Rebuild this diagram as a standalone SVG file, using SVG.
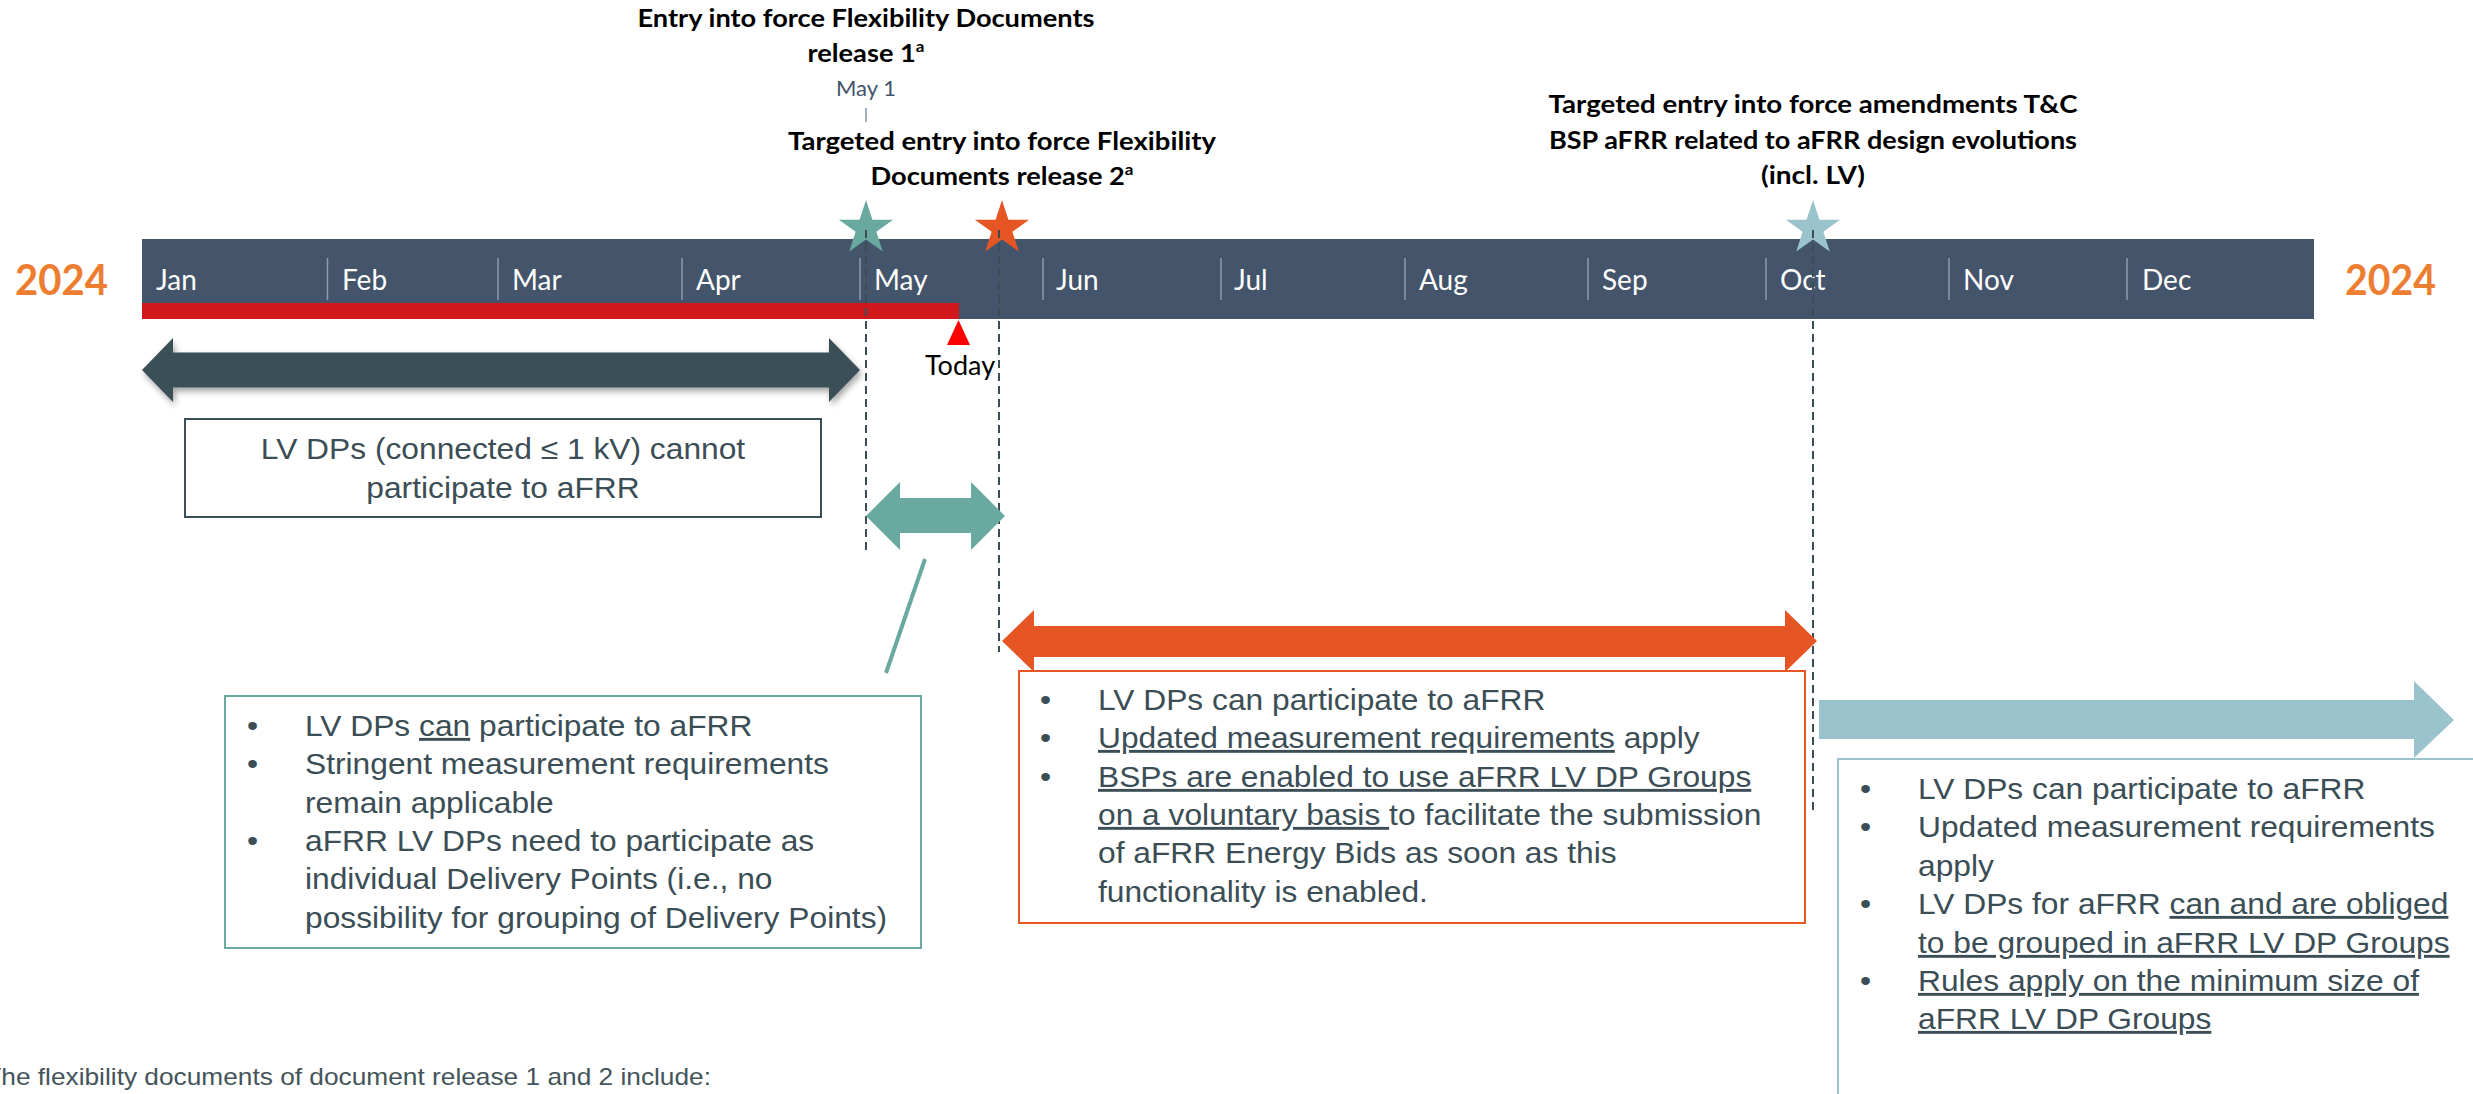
<svg xmlns="http://www.w3.org/2000/svg" width="2473" height="1094" viewBox="0 0 2473 1094">
  <style>
    .head { font-family: Lato, "Liberation Sans", sans-serif; font-weight: 700; font-size: 24px; fill: #000000; }
    .month { font-family: Lato, "Liberation Sans", sans-serif; font-size: 28px; fill: #FFFFFF; }
    .year { font-family: Lato, "Liberation Sans", sans-serif; font-weight: 700; font-size: 42px; fill: #ED7D31; }
    .body { font-family: "Liberation Sans", Arial, sans-serif; font-size: 29px; fill: #3B4D55; }
    .note { font-family: "Liberation Sans", Arial, sans-serif; font-size: 24px; fill: #44545A; }
    .u { text-decoration: underline; }
    .divider { stroke: #8C9BB0; stroke-width: 1.5; }
    .guide { stroke: #3B4D55; stroke-width: 2; stroke-dasharray: 8 5; fill: none; }
  </style>
  <defs>
    <polygon id="star" points="0,-28.5 6.41,-8.82 27.1,-8.8 10.37,3.37 16.75,23.06 0,10.9 -16.75,23.06 -10.37,3.37 -27.1,-8.8 -6.41,-8.82"/>
    <filter id="shadow" x="-5%" y="-30%" width="110%" height="170%">
      <feGaussianBlur in="SourceAlpha" stdDeviation="3"/>
      <feOffset dx="2" dy="4" result="b"/>
      <feComponentTransfer><feFuncA type="linear" slope="0.35"/></feComponentTransfer>
      <feMerge><feMergeNode/><feMergeNode in="SourceGraphic"/></feMerge>
    </filter>
  </defs>

  <rect width="2473" height="1094" fill="#FFFFFF"/>

  <!-- milestone captions -->
  <g id="caption-release1">
    <text class="head" x="866" y="27" text-anchor="middle" textLength="457" lengthAdjust="spacingAndGlyphs">Entry into force Flexibility Documents</text>
    <text class="head" x="866" y="62" text-anchor="middle" textLength="117" lengthAdjust="spacingAndGlyphs">release 1<tspan font-size="15" dy="-10">a</tspan></text>
    <text x="866" y="96" text-anchor="middle" font-family="Lato, 'Liberation Sans', sans-serif" font-size="22" fill="#44546A">May 1</text>
    <line x1="866" y1="108" x2="866" y2="122" stroke="#8497B0" stroke-width="1.5"/>
  </g>
  <g id="caption-release2">
    <text class="head" x="1002" y="150" text-anchor="middle" textLength="428" lengthAdjust="spacingAndGlyphs">Targeted entry into force Flexibility</text>
    <text class="head" x="1002" y="185" text-anchor="middle" textLength="263" lengthAdjust="spacingAndGlyphs">Documents release 2<tspan font-size="15" dy="-10">a</tspan></text>
  </g>
  <g id="caption-tc">
    <text class="head" x="1813" y="113" text-anchor="middle" textLength="529" lengthAdjust="spacingAndGlyphs">Targeted entry into force amendments T&amp;C</text>
    <text class="head" x="1813" y="149" text-anchor="middle" textLength="528" lengthAdjust="spacingAndGlyphs">BSP aFRR related to aFRR design evolutions</text>
    <text class="head" x="1813" y="184" text-anchor="middle" textLength="104" lengthAdjust="spacingAndGlyphs">(incl. LV)</text>
  </g>

  <!-- timeline bar -->
  <g id="timeline">
    <rect x="142" y="239" width="2172" height="80" fill="#44546A"/>
    <rect x="142" y="303" width="817" height="16" fill="#CF171C"/>
    <g class="divider">
      <line x1="327.5" y1="258" x2="327.5" y2="300"/>
      <line x1="498" y1="258" x2="498" y2="300"/>
      <line x1="682" y1="258" x2="682" y2="300"/>
      <line x1="860" y1="258" x2="860" y2="300"/>
      <line x1="1043" y1="258" x2="1043" y2="300"/>
      <line x1="1221" y1="258" x2="1221" y2="300"/>
      <line x1="1405" y1="258" x2="1405" y2="300"/>
      <line x1="1588" y1="258" x2="1588" y2="300"/>
      <line x1="1766" y1="258" x2="1766" y2="300"/>
      <line x1="1949" y1="258" x2="1949" y2="300"/>
      <line x1="2127" y1="258" x2="2127" y2="300"/>
    </g>
    <text class="month" x="156" y="290">Jan</text>
    <text class="month" x="342" y="290">Feb</text>
    <text class="month" x="512" y="290">Mar</text>
    <text class="month" x="696" y="290">Apr</text>
    <text class="month" x="874" y="290">May</text>
    <text class="month" x="1056" y="290">Jun</text>
    <text class="month" x="1234" y="290">Jul</text>
    <text class="month" x="1419" y="290">Aug</text>
    <text class="month" x="1602" y="290">Sep</text>
    <text class="month" x="1780" y="290">Oct</text>
    <text class="month" x="1963" y="290">Nov</text>
    <text class="month" x="2142" y="290">Dec</text>
    <text class="year" x="15" y="295" textLength="93" lengthAdjust="spacingAndGlyphs">2024</text>
    <text class="year" x="2345" y="295" textLength="91" lengthAdjust="spacingAndGlyphs">2024</text>
  </g>

  <!-- today marker -->
  <g id="today">
    <polygon points="958.5,320 947,345 970,345" fill="#FF0000"/>
    <text x="960" y="375" text-anchor="middle" font-family="Lato, 'Liberation Sans', sans-serif" font-size="27" fill="#000000">Today</text>
  </g>

  <!-- milestone stars -->
  <g id="star-release1"><use href="#star" x="866" y="228.5" fill="#69A99F"/></g>
  <g id="star-release2"><use href="#star" x="1002" y="228.5" fill="#E55624"/></g>
  <g id="star-tc"><use href="#star" x="1813" y="228.5" fill="#9BC3CD"/></g>

  <!-- connectors: milestone guides and callout -->
  <g id="connectors">
    <line class="guide" x1="866" y1="230" x2="866" y2="550"/>
    <line class="guide" x1="999" y1="230" x2="999" y2="652"/>
    <line class="guide" x1="1813" y1="230" x2="1813" y2="810"/>
    <line x1="925" y1="559" x2="886" y2="673" stroke="#69A99F" stroke-width="4"/>
  </g>

  <!-- period arrows -->
  <g id="arrow-before">
    <path d="M142,370 L173,338 L173,352.5 L829,352.5 L829,338 L860,370 L829,402 L829,387.5 L173,387.5 L173,402 Z" fill="#3A4F57" filter="url(#shadow)"/>
  </g>
  <g id="arrow-release1">
    <path d="M866,516 L900,482 L900,498 L971,498 L971,482 L1005,516 L971,550 L971,533 L900,533 L900,550 Z" fill="#69A99F"/>
  </g>
  <g id="arrow-release2">
    <path d="M1002,641 L1034,610 L1034,626 L1785,626 L1785,610 L1817,641 L1785,672 L1785,657 L1034,657 L1034,672 Z" fill="#E55624"/>
  </g>
  <g id="arrow-after">
    <path d="M1819,700 L2414,700 L2414,681 L2454,720 L2414,758 L2414,739 L1819,739 Z" fill="#9BC3CD"/>
  </g>

  <!-- period boxes -->
  <g id="box-before">
    <rect x="185" y="419" width="636" height="98" fill="#FFFFFF" stroke="#3A4F57" stroke-width="2"/>
    <g transform="translate(503,0) scale(1.095,1)">
      <text class="body" x="0" y="459" text-anchor="middle">LV DPs (connected ≤ 1 kV) cannot</text>
      <text class="body" x="0" y="498" text-anchor="middle">participate to aFRR</text>
    </g>
  </g>

  <g id="box-release1">
    <rect x="225" y="696" width="696" height="252" fill="#FFFFFF" stroke="#69A99F" stroke-width="2"/>
    <g transform="translate(305,0) scale(1.095,1)">
      <text class="body" x="-53" y="736">•</text>
      <text class="body" x="0" y="736">LV DPs <tspan class="u">can</tspan> participate to aFRR</text>
      <text class="body" x="-53" y="774">•</text>
      <text class="body" x="0" y="774">Stringent measurement requirements</text>
      <text class="body" x="0" y="813">remain applicable</text>
      <text class="body" x="-53" y="851">•</text>
      <text class="body" x="0" y="851">aFRR LV DPs need to participate as</text>
      <text class="body" x="0" y="889">individual Delivery Points (i.e., no</text>
      <text class="body" x="0" y="928">possibility for grouping of Delivery Points)</text>
    </g>
  </g>

  <g id="box-release2">
    <rect x="1019" y="671" width="786" height="252" fill="#FFFFFF" stroke="#E55624" stroke-width="2"/>
    <g transform="translate(1098,0) scale(1.095,1)">
      <text class="body" x="-53" y="710">•</text>
      <text class="body" x="0" y="710">LV DPs can participate to aFRR</text>
      <text class="body" x="-53" y="748">•</text>
      <text class="body" x="0" y="748"><tspan class="u">Updated measurement requirements</tspan> apply</text>
      <text class="body" x="-53" y="787">•</text>
      <text class="body" x="0" y="787"><tspan class="u">BSPs are enabled to use aFRR LV DP Groups</tspan></text>
      <text class="body" x="0" y="825"><tspan class="u">on a voluntary basis </tspan>to facilitate the submission</text>
      <text class="body" x="0" y="863">of aFRR Energy Bids as soon as this</text>
      <text class="body" x="0" y="902">functionality is enabled.</text>
    </g>
  </g>

  <g id="box-after">
    <rect x="1838" y="759" width="660" height="360" fill="#FFFFFF" stroke="#9BC3CD" stroke-width="2"/>
    <g transform="translate(1918,0) scale(1.095,1)">
      <text class="body" x="-53" y="799">•</text>
      <text class="body" x="0" y="799">LV DPs can participate to aFRR</text>
      <text class="body" x="-53" y="837">•</text>
      <text class="body" x="0" y="837">Updated measurement requirements</text>
      <text class="body" x="0" y="876">apply</text>
      <text class="body" x="-53" y="914">•</text>
      <text class="body" x="0" y="914">LV DPs for aFRR <tspan class="u">can and are obliged</tspan></text>
      <text class="body" x="0" y="953"><tspan class="u">to be grouped in aFRR LV DP Groups</tspan></text>
      <text class="body" x="-53" y="991">•</text>
      <text class="body" x="0" y="991"><tspan class="u">Rules apply on the minimum size of</tspan></text>
      <text class="body" x="0" y="1029"><tspan class="u">aFRR LV DP Groups</tspan></text>
    </g>
  </g>

  <!-- footnote, running off the left edge -->
  <g id="footnote" transform="translate(711,0) scale(1.095,1)">
    <text class="note" x="0" y="1085" text-anchor="end">The flexibility documents of document release 1 and 2 include:</text>
  </g>
</svg>
